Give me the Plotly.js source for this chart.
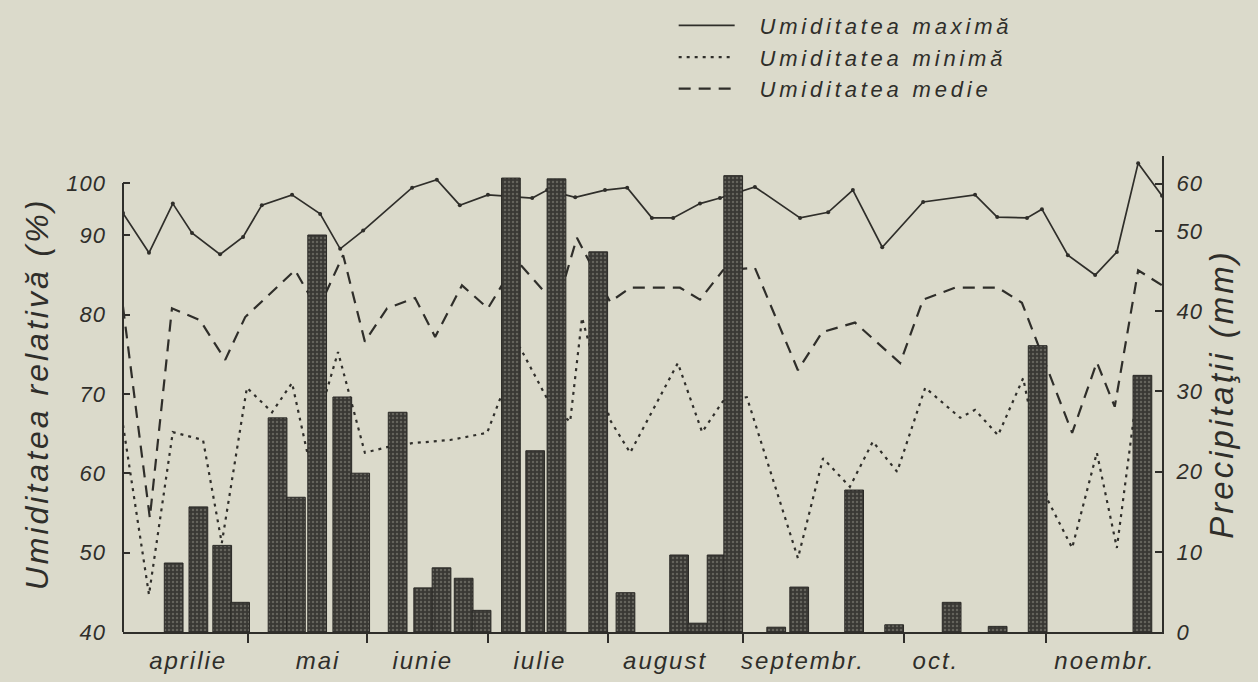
<!DOCTYPE html>
<html>
<head>
<meta charset="utf-8">
<script src="https://cdn.plot.ly/plotly-3.0.1.min.js"></script>
<style>
  html, body { margin: 0; padding: 0; background: #dbdacb; }
  #chart { width: 1258px; height: 682px; }
  text.ytitle, text.y2title { letter-spacing: 3px; }
  text.legendtext { letter-spacing: 3.8px; }
  .xtick text { letter-spacing: 2px; }
  .ytick text, .y2tick text { letter-spacing: 1px; }
</style>
</head>
<body>
<div id="chart"></div>
<script>
// ---- data (x = position along the season, in days from 1 April, as drawn) ----
const monthNames = ['aprilie', 'mai', 'iunie', 'iulie', 'august', 'septembr.', 'oct.', 'noembr.'];
const monthLabelPos = [15.3, 45.8, 70.4, 97.9, 127.3, 159.7, 190.9, 230.6];
const monthEdges = [29.4, 57.3, 85.7, 113.9, 145.6, 183.4, 216.8];

const maxDay = [0, 6.1, 11.7, 16.2, 22.8, 28.2, 32.6, 39.7, 46.3, 51.0, 56.4, 67.9, 73.7, 79.1, 85.7, 96.1, 99.6, 106.2, 113.2, 118.4, 124.2, 129.2, 135.5, 140.2, 148.4, 159.0, 165.6, 171.4, 178.3, 187.9, 200.1, 205.3, 212.3, 215.8, 221.9, 228.3, 233.4, 238.4, 244];
const maxHum = [92.8, 87.8, 94.0, 90.3, 87.6, 89.8, 93.8, 95.1, 92.7, 88.3, 90.6, 96.0, 97.0, 93.8, 95.1, 94.7, 95.7, 94.8, 95.7, 96.0, 92.2, 92.2, 94.0, 94.7, 96.1, 92.2, 92.9, 95.7, 88.5, 94.2, 95.1, 92.3, 92.2, 93.3, 87.5, 85.0, 87.9, 99.1, 95.0];

const minDay = [0, 6.1, 11.7, 18.8, 23.2, 29.1, 35.0, 39.7, 43.4, 50.5, 56.8, 62.0, 67.9, 76.8, 85.5, 93.2, 100.3, 105.0, 107.8, 114.4, 119.1, 130.3, 136.0, 140.9, 146.5, 158.5, 164.4, 170.7, 176.1, 181.8, 188.4, 196.6, 200.1, 205.5, 211.4, 217.2, 222.9, 228.7, 233.4, 238.1];
const minHum = [66.1, 44.7, 65.2, 64.2, 51.2, 70.8, 67.7, 71.4, 62.3, 75.3, 62.6, 63.3, 63.8, 64.2, 65.1, 75.9, 68.7, 66.5, 79.6, 66.7, 62.6, 73.9, 65.2, 69.1, 69.6, 49.3, 61.9, 58.3, 64.0, 60.2, 70.8, 67.0, 68.0, 64.8, 72.0, 56.6, 50.6, 62.6, 50.6, 70.0];

const medDay = [0, 6.3, 11.5, 18.1, 24.0, 28.7, 40.4, 45.8, 51.7, 56.8, 62.0, 68.6, 73.3, 79.6, 85.7, 92.5, 98.6, 103.8, 106.6, 114.4, 119.1, 130.8, 135.5, 140.9, 148.4, 158.5, 164.2, 171.9, 182.5, 187.9, 195.4, 205.5, 211.1, 222.9, 228.7, 232.9, 238.4, 244];
const medHum = [81.0, 54.4, 80.8, 79.3, 74.3, 79.7, 85.6, 80.6, 87.5, 76.6, 80.8, 82.1, 77.2, 83.7, 80.8, 86.8, 83.1, 84.6, 89.7, 81.6, 83.4, 83.4, 81.9, 85.6, 85.9, 73.0, 77.8, 79.0, 73.9, 81.9, 83.4, 83.4, 81.5, 65.1, 74.0, 68.4, 85.6, 83.7];

const rainDay = [11.9, 17.7, 23.3, 27.5, 36.3, 40.6, 45.6, 51.5, 55.7, 64.5, 70.5, 74.8, 80.0, 84.2, 91.1, 96.8, 101.8, 111.6, 118.0, 130.6, 134.9, 139.4, 143.3, 153.4, 158.8, 171.7, 181.1, 194.6, 205.4, 214.8, 239.4];
const rainMm = [8.6, 15.6, 10.8, 3.7, 26.7, 16.8, 49.5, 29.3, 19.8, 27.4, 5.5, 8.0, 6.7, 2.7, 56.6, 22.6, 56.5, 47.4, 4.9, 9.6, 1.1, 9.6, 56.9, 0.6, 5.6, 17.7, 0.9, 3.7, 0.7, 35.7, 32.0];

const humTicks = [40, 50, 60, 70, 80, 90, 96.6];
const humTickText = ['40', '50', '60', '70', '80', '90', '100'];
const rainTicks = [0, 10, 20, 30, 40, 50, 55.9];
const rainTickText = ['0', '10', '20', '30', '40', '50', '60'];

// ---- styling ----
const ink = '#2f2e2a';
const paper = '#dbdacb';
const fam = '"Liberation Sans Narrow", "Liberation Sans", "DejaVu Sans", sans-serif';
const ital = (size) => ({ family: fam, size: size, color: ink, style: 'italic' });
const pad = '\u00a0\u00a0';

const traces = [
  {
    x: maxDay, y: maxHum, type: 'scatter', mode: 'lines',
    name: pad + 'Umiditatea maximă', yaxis: 'y', xaxis: 'x',
    line: { color: ink, width: 1.7 }
  },
  {
    x: minDay, y: minHum, type: 'scatter', mode: 'lines',
    name: pad + 'Umiditatea minimă', yaxis: 'y', xaxis: 'x',
    line: { color: ink, width: 2.2, dash: '3px,5px' }
  },
  {
    x: medDay, y: medHum, type: 'scatter', mode: 'lines',
    name: pad + 'Umiditatea medie', yaxis: 'y', xaxis: 'x',
    line: { color: ink, width: 2.2, dash: '12px,8px' }
  },
  {
    x: maxDay, y: maxHum, type: 'scatter', mode: 'markers',
    name: 'Umiditatea maximă (puncte)', showlegend: false, yaxis: 'y', xaxis: 'x',
    marker: { color: ink, size: 4 }
  },
  {
    x: rainDay, y: rainMm, type: 'bar', yaxis: 'y2', xaxis: 'x',
    name: 'Precipitaţii', showlegend: false, width: 4.4,
    marker: {
      color: '#3a3935',
      line: { color: '#2a2926', width: 1 },
      pattern: { shape: '.', fillmode: 'replace', bgcolor: '#393834', fgcolor: '#64635c', size: 4, solidity: 0.3 }
    }
  }
];

const layout = {
  width: 1258, height: 682,
  margin: { l: 123, r: 96, t: 156, b: 50, autoexpand: false },
  paper_bgcolor: paper, plot_bgcolor: paper,
  showlegend: true,
  legend: {
    x: 0.53, y: 1.318, xanchor: 'left', yanchor: 'top',
    bgcolor: 'rgba(0,0,0,0)', font: ital(22), tracegroupgap: 0, itemwidth: 56
  },
  xaxis: {
    range: [0, 244], showgrid: false, zeroline: false, automargin: false,
    showline: true, linecolor: ink, linewidth: 2,
    tickmode: 'array', tickvals: monthLabelPos, ticktext: monthNames, ticks: '',
    tickfont: ital(24), ticklabelstandoff: 6,
    minor: { tickmode: 'array', tickvals: monthEdges, ticks: 'outside', ticklen: 9, tickwidth: 2, tickcolor: ink }
  },
  yaxis: {
    range: [40, 100], showgrid: false, zeroline: false, showline: false, automargin: false,
    tickmode: 'array', tickvals: humTicks, ticktext: humTickText,
    ticks: 'inside', ticklen: 7, tickwidth: 2, tickcolor: ink,
    tickfont: ital(22), ticklabelstandoff: 16,
    title: { text: 'Umiditatea relativă (%)', font: ital(32), standoff: 8 }
  },
  yaxis2: {
    range: [0, 59.35], overlaying: 'y', side: 'right', anchor: 'x', automargin: false,
    showgrid: false, zeroline: false, showline: true, linecolor: ink, linewidth: 2,
    tickmode: 'array', tickvals: rainTicks, ticktext: rainTickText,
    ticks: 'inside', ticklen: 7, tickwidth: 2, tickcolor: ink,
    tickfont: ital(22), ticklabelstandoff: 8,
    title: { text: 'Precipitaţii (mm)', font: ital(33), standoff: 0 }
  },
  shapes: [
    { type: 'line', xref: 'paper', yref: 'y', x0: 0, x1: 0, y0: 40, y1: 96.6, line: { color: ink, width: 2 } }
  ]
};

Plotly.newPlot('chart', traces, layout, { staticPlot: true, displayModeBar: false });
</script>
</body>
</html>
